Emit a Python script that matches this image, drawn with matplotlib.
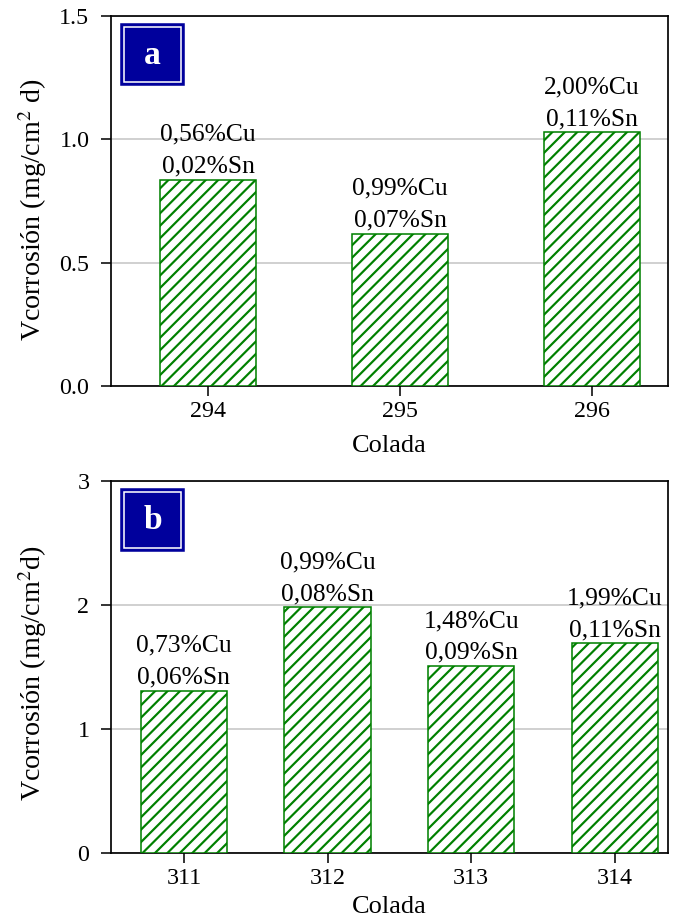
import numpy as np
import matplotlib
matplotlib.use("Agg")
import matplotlib.pyplot as plt
from matplotlib.patches import Rectangle

plt.rcParams['font.family'] = ['Liberation Serif', 'DejaVu Serif']
plt.rcParams['mathtext.fontset'] = 'stix'
plt.rcParams['hatch.linewidth'] = 1.4

# Heat (colada) data for the two panels
coladas_a = ["294", "295", "296"]
vcorr_a = [0.837, 0.618, 1.028]
cu_a = ["0,56", "0,99", "2,00"]
sn_a = ["0,02", "0,07", "0,11"]

coladas_b = ["311", "312", "313", "314"]
vcorr_b = [1.31, 1.98, 1.51, 1.69]
cu_b = ["0,73", "0,99", "1,48", "1,99"]
sn_b = ["0,06", "0,08", "0,09", "0,11"]

green = "#008000"
navy = "#00009c"

DPI = 112
fig = plt.figure(figsize=(682 / DPI, 922 / DPI), dpi=DPI)
ax1 = fig.add_axes([0.1628, 0.5813, 0.8167, 0.4013])
ax2 = fig.add_axes([0.1628, 0.0748, 0.8167, 0.4035])
k = 115 / DPI  # keeps text sizes in pixels constant


def draw_panel(ax, names, vals, cu, sn, width, xlim, ylim, yticks, yfmt,
               ylabel, tag, ly, xpad):
    x = np.arange(len(names))
    ax.bar(x, vals, width=width, color="white", edgecolor=green,
           hatch="///", linewidth=1.0, zorder=3)
    for xi, v, c, s in zip(x, vals, cu, sn):
        ax.annotate(f"{c}%Cu\n{s}%Sn", (xi, v), xytext=(0, 1.5 * k),
                    textcoords="offset points", ha="center", va="bottom",
                    fontsize=16 * k, linespacing=1.55, zorder=4)
    ax.set_xlim(*xlim)
    ax.set_ylim(*ylim)
    ax.set_xticks(x)
    ax.set_xticklabels(names, fontsize=15 * k)
    ax.set_yticks(yticks)
    ax.set_yticklabels([yfmt.format(t) for t in yticks], fontsize=15 * k)
    ax.yaxis.grid(True, color="#c4c4c4", linewidth=1.0, zorder=0)
    ax.set_axisbelow(True)
    ax.tick_params(direction="out", length=6.5 * k, width=1.0)
    ax.tick_params(axis="x", pad=3 * k)
    ax.tick_params(axis="y", pad=7 * k)
    for sp in ax.spines.values():
        sp.set_linewidth(1.1)
    ax.set_xlabel("Colada", fontsize=16.5 * k, labelpad=xpad * k)
    ax.set_ylabel(ylabel, fontsize=17.5 * k)
    ax.yaxis.set_label_coords(-0.112, ly)
    # panel tag box
    ax.add_patch(Rectangle((0.018, 0.813), 0.113, 0.165, transform=ax.transAxes,
                           facecolor=navy, edgecolor=navy, linewidth=1.0, zorder=5))
    ax.add_patch(Rectangle((0.0235, 0.821), 0.102, 0.149, transform=ax.transAxes,
                           facecolor="none", edgecolor="white", linewidth=1.0, zorder=6))
    ax.text(0.0745, 0.893, tag, transform=ax.transAxes, ha="center", va="center",
            color="white", fontsize=21 * k, fontweight="bold", zorder=7)


draw_panel(ax1, coladas_a, vcorr_a, cu_a, sn_a, 0.495, (-0.505, 2.396), (0, 1.5),
           [0.0, 0.5, 1.0, 1.5], "{:.1f}", r"Vcorrosión (mg/cm$^2$ d)", "a", 0.476, 8)
draw_panel(ax2, coladas_b, vcorr_b, cu_b, sn_b, 0.6, (-0.507, 3.37), (0, 3),
           [0, 1, 2, 3], "{:d}", r"Vcorrosión (mg/cm$^2$d)", "b", 0.484, 4)

fig.savefig("out.png", dpi=DPI)
